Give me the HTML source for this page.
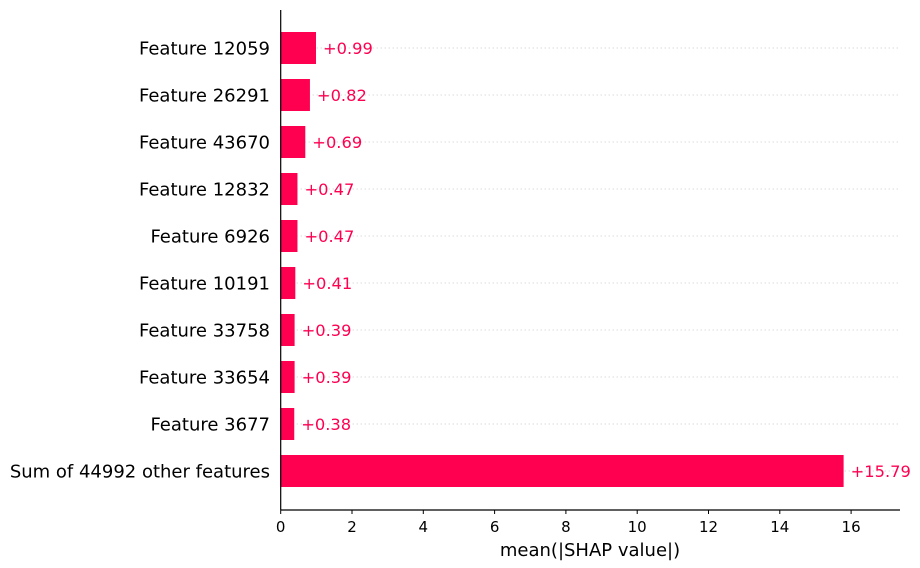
<!DOCTYPE html>
<html><head><meta charset="utf-8"><style>
body{margin:0;background:#fff}
svg{display:block;font-family:"DejaVu Sans","Liberation Sans",sans-serif}
</style></head><body>
<svg id="chart" width="920" height="568"></svg>
<script>
const features = ["Feature 12059","Feature 26291","Feature 43670","Feature 12832","Feature 6926","Feature 10191","Feature 33758","Feature 33654","Feature 3677","Sum of 44992 other features"];
const values = [0.99,0.82,0.69,0.47,0.47,0.41,0.39,0.39,0.38,15.79];
const valueLabels = ["+0.99","+0.82","+0.69","+0.47","+0.47","+0.41","+0.39","+0.39","+0.38","+15.79"];
const ticks = [0,2,4,6,8,10,12,14,16];

const NS="http://www.w3.org/2000/svg";
const svg=document.getElementById('chart');
const x0=280.7, pxPer=35.65, yTop=48, rowStep=47, barH=32, axisY=510;
const xs=v=>x0+v*pxPer;
const ys=i=>yTop+i*rowStep;
function mk(t,a){const e=document.createElementNS(NS,t);for(const k in a)e.setAttribute(k,a[k]);svg.appendChild(e);return e;}

features.forEach((f,i)=>{
  const g=mk('line',{x1:x0,x2:900,y1:ys(i),y2:ys(i),stroke:'#ccc','stroke-width':1,'stroke-dasharray':'1,3'});
  
  
});
features.forEach((f,i)=>{
  const r=mk('rect',{x:x0,y:ys(i)-barH/2,width:xs(values[i])-x0,height:barH,fill:'#ff0051'});
  
  
  const l=mk('text',{x:270,y:ys(i)+6.5,'text-anchor':'end','font-size':18,fill:'#000'});
  l.textContent=f;
  
  
  const v=mk('text',{x:xs(values[i])+7,y:ys(i)+6,'font-size':16.3,fill:'#ff0051'});
  v.textContent=valueLabels[i];
  
  
});
const ya=mk('line',{x1:x0,x2:x0,y1:10,y2:axisY,stroke:'#000','stroke-width':1.2});


const xa=mk('line',{x1:x0,x2:900,y1:axisY,y2:axisY,stroke:'#000','stroke-width':1.2});


ticks.forEach(t=>{
  const tk=mk('line',{x1:xs(t),x2:xs(t),y1:axisY,y2:axisY+4,stroke:'#000','stroke-width':1});
  
  
  const tl=mk('text',{x:xs(t),y:axisY+22,'text-anchor':'middle','font-size':15,fill:'#000'});
  tl.textContent=t;
  
  
});
const tt=mk('text',{x:590,y:556,'text-anchor':'middle','font-size':18,fill:'#000'});
tt.textContent='mean(|SHAP value|)';


</script>
</body></html>
